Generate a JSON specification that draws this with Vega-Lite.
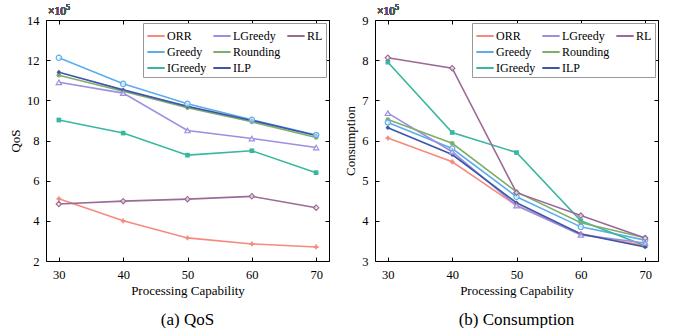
{
  "$schema": "https://vega.github.io/schema/vega-lite/v6.json",
  "padding": {"left": 9, "top": 3, "right": 0, "bottom": 0},
  "background": "white",
  "config": {
    "font": "Liberation Serif",
    "view": {"stroke": "black", "strokeWidth": 1},
    "axis": {"grid": false, "domain": false, "zindex": 1, "ticks": true, "tickColor": "black", "tickSize": 4, "offset": -4, "tickWidth": 1, "labelPadding": 7, "labelFontSize": 12.5, "titleFontSize": 13, "titleFontWeight": "normal", "labelColor": "black", "titleColor": "black", "labelFont": "Liberation Serif", "titleFont": "Liberation Serif", "titlePadding": 4},
    "legend": {"orient": "top-right", "offset": 3, "direction": "vertical", "columns": 3, "symbolType": "stroke", "symbolSize": 300, "symbolStrokeWidth": 2, "labelFontSize": 12, "labelFont": "Liberation Serif", "labelColor": "black", "fillColor": "white", "strokeColor": "#999", "padding": 3, "rowPadding": 0, "columnPadding": 2, "title": null, "labelOffset": 1}
  },
  "datasets": {
    "qos": [
      {"cap": 30, "method": "ORR", "value": 5.1}, {"cap": 40, "method": "ORR", "value": 4.0}, {"cap": 50, "method": "ORR", "value": 3.15}, {"cap": 60, "method": "ORR", "value": 2.85}, {"cap": 70, "method": "ORR", "value": 2.7},
      {"cap": 30, "method": "Greedy", "value": 12.12}, {"cap": 40, "method": "Greedy", "value": 10.82}, {"cap": 50, "method": "Greedy", "value": 9.83}, {"cap": 60, "method": "Greedy", "value": 9.03}, {"cap": 70, "method": "Greedy", "value": 8.27},
      {"cap": 30, "method": "IGreedy", "value": 9.02}, {"cap": 40, "method": "IGreedy", "value": 8.37}, {"cap": 50, "method": "IGreedy", "value": 7.27}, {"cap": 60, "method": "IGreedy", "value": 7.49}, {"cap": 70, "method": "IGreedy", "value": 6.4},
      {"cap": 30, "method": "LGreedy", "value": 10.9}, {"cap": 40, "method": "LGreedy", "value": 10.36}, {"cap": 50, "method": "LGreedy", "value": 8.5}, {"cap": 60, "method": "LGreedy", "value": 8.1}, {"cap": 70, "method": "LGreedy", "value": 7.65},
      {"cap": 30, "method": "Rounding", "value": 11.25}, {"cap": 40, "method": "Rounding", "value": 10.45}, {"cap": 50, "method": "Rounding", "value": 9.63}, {"cap": 60, "method": "Rounding", "value": 8.93}, {"cap": 70, "method": "Rounding", "value": 8.15},
      {"cap": 30, "method": "ILP", "value": 11.4}, {"cap": 40, "method": "ILP", "value": 10.52}, {"cap": 50, "method": "ILP", "value": 9.7}, {"cap": 60, "method": "ILP", "value": 9.0}, {"cap": 70, "method": "ILP", "value": 8.25},
      {"cap": 30, "method": "RL", "value": 4.84}, {"cap": 40, "method": "RL", "value": 4.98}, {"cap": 50, "method": "RL", "value": 5.08}, {"cap": 60, "method": "RL", "value": 5.22}, {"cap": 70, "method": "RL", "value": 4.65}
    ],
    "cons": [
      {"cap": 30, "method": "ORR", "value": 6.06}, {"cap": 40, "method": "ORR", "value": 5.47}, {"cap": 50, "method": "ORR", "value": 4.38}, {"cap": 60, "method": "ORR", "value": 3.68}, {"cap": 70, "method": "ORR", "value": 3.38},
      {"cap": 30, "method": "Greedy", "value": 6.45}, {"cap": 40, "method": "Greedy", "value": 5.8}, {"cap": 50, "method": "Greedy", "value": 4.6}, {"cap": 60, "method": "Greedy", "value": 3.85}, {"cap": 70, "method": "Greedy", "value": 3.52},
      {"cap": 30, "method": "IGreedy", "value": 7.95}, {"cap": 40, "method": "IGreedy", "value": 6.2}, {"cap": 50, "method": "IGreedy", "value": 5.7}, {"cap": 60, "method": "IGreedy", "value": 4.0}, {"cap": 70, "method": "IGreedy", "value": 3.38},
      {"cap": 30, "method": "LGreedy", "value": 6.68}, {"cap": 40, "method": "LGreedy", "value": 5.72}, {"cap": 50, "method": "LGreedy", "value": 4.38}, {"cap": 60, "method": "LGreedy", "value": 3.65}, {"cap": 70, "method": "LGreedy", "value": 3.45},
      {"cap": 30, "method": "Rounding", "value": 6.52}, {"cap": 40, "method": "Rounding", "value": 5.93}, {"cap": 50, "method": "Rounding", "value": 4.72}, {"cap": 60, "method": "Rounding", "value": 3.95}, {"cap": 70, "method": "Rounding", "value": 3.58},
      {"cap": 30, "method": "ILP", "value": 6.32}, {"cap": 40, "method": "ILP", "value": 5.65}, {"cap": 50, "method": "ILP", "value": 4.45}, {"cap": 60, "method": "ILP", "value": 3.67}, {"cap": 70, "method": "ILP", "value": 3.35},
      {"cap": 30, "method": "RL", "value": 8.06}, {"cap": 40, "method": "RL", "value": 7.8}, {"cap": 50, "method": "RL", "value": 4.7}, {"cap": 60, "method": "RL", "value": 4.13}, {"cap": 70, "method": "RL", "value": 3.57}
    ]
  },
  "hconcat": [
    {
      "width": 283, "height": 241,
      "title": {"text": "(a)  QoS", "orient": "bottom", "fontSize": 17, "fontWeight": "normal", "font": "Liberation Serif", "offset": 14, "color": "black"},
      "data": {"name": "qos"},
      "layer": [
        {
          "mark": {"type": "line", "strokeWidth": 1.6},
          "encoding": {
            "x": {"field": "cap", "type": "quantitative", "scale": {"domain": [28, 72], "nice": false}, "axis": {"values": [30, 40, 50, 60, 70], "title": "Processing Capability"}},
            "y": {"field": "value", "type": "quantitative", "scale": {"domain": [2, 14], "nice": false}, "axis": {"values": [2, 4, 6, 8, 10, 12, 14], "title": "QoS"}},
            "color": {"field": "method", "type": "nominal",
              "scale": {"domain": ["ORR", "Greedy", "IGreedy", "LGreedy", "Rounding", "ILP", "RL", " "], "range": ["#f68a7c", "#5aaeec", "#38b7a0", "#9d8fe0", "#80ad6c", "#3d56a6", "#9b6b96", "transparent"]}}
          }
        },
        {
          "transform": [{"filter": {"field": "method", "oneOf": ["ORR", "IGreedy", "Rounding", "ILP"]}}],
          "mark": {"type": "point", "filled": true, "size": 22, "opacity": 1},
          "encoding": {
            "x": {"field": "cap", "type": "quantitative", "axis": null},
            "y": {"field": "value", "type": "quantitative", "axis": null},
            "color": {"field": "method", "type": "nominal",
              "scale": {"domain": ["ORR", "Greedy", "IGreedy", "LGreedy", "Rounding", "ILP", "RL", " "], "range": ["#f68a7c", "#5aaeec", "#38b7a0", "#9d8fe0", "#80ad6c", "#3d56a6", "#9b6b96", "transparent"]}},
            "shape": {"field": "method", "type": "nominal", "legend": null, "scale": {"domain": ["ORR", "IGreedy", "Rounding", "ILP"], "range": ["cross", "square", "circle", "diamond"]}}
          }
        },
        {
          "transform": [{"filter": {"field": "method", "oneOf": ["Greedy", "LGreedy", "RL"]}}],
          "mark": {"type": "point", "filled": false, "fill": "white", "fillOpacity": 0.6, "size": 28, "strokeWidth": 1.2, "opacity": 1},
          "encoding": {
            "x": {"field": "cap", "type": "quantitative", "axis": null},
            "y": {"field": "value", "type": "quantitative", "axis": null},
            "color": {"field": "method", "type": "nominal",
              "scale": {"domain": ["ORR", "Greedy", "IGreedy", "LGreedy", "Rounding", "ILP", "RL", " "], "range": ["#f68a7c", "#5aaeec", "#38b7a0", "#9d8fe0", "#80ad6c", "#3d56a6", "#9b6b96", "transparent"]}},
            "shape": {"field": "method", "type": "nominal", "legend": null, "scale": {"domain": ["Greedy", "LGreedy", "RL"], "range": ["circle", "triangle-up", "diamond"]}}
          }
        },
        {
          "mark": {"type": "text", "text": "×10", "align": "left", "baseline": "bottom", "dx": 2, "dy": -3, "fontSize": 11.5, "font": "Liberation Serif", "color": "#555"},
          "encoding": {
            "x": {"datum": 28, "type": "quantitative", "axis": {"orient": "top", "values": [30, 40, 50, 60, 70], "labels": false, "title": null}},
            "y": {"datum": 14, "type": "quantitative", "axis": {"orient": "right", "values": [2, 4, 6, 8, 10, 12, 14], "labels": false, "title": null}}
          }
        },
        {
          "mark": {"type": "text", "text": "5", "align": "left", "baseline": "bottom", "dx": 20, "dy": -8, "fontSize": 8, "font": "Liberation Serif", "color": "#555"},
          "encoding": {
            "x": {"datum": 28, "type": "quantitative", "axis": null},
            "y": {"datum": 14, "type": "quantitative", "axis": null}
          }
        }
      ],
      "resolve": {"axis": {"x": "independent", "y": "independent"}, "scale": {"shape": "independent"}}
    },
    {
      "width": 283, "height": 241,
      "title": {"text": "(b)  Consumption", "orient": "bottom", "fontSize": 17, "fontWeight": "normal", "font": "Liberation Serif", "offset": 14, "color": "black"},
      "data": {"name": "cons"},
      "layer": [
        {
          "mark": {"type": "line", "strokeWidth": 1.6},
          "encoding": {
            "x": {"field": "cap", "type": "quantitative", "scale": {"domain": [28, 72], "nice": false}, "axis": {"values": [30, 40, 50, 60, 70], "title": "Processing Capability"}},
            "y": {"field": "value", "type": "quantitative", "scale": {"domain": [3, 9], "nice": false}, "axis": {"values": [3, 4, 5, 6, 7, 8, 9], "title": "Consumption"}},
            "color": {"field": "method", "type": "nominal",
              "scale": {"domain": ["ORR", "Greedy", "IGreedy", "LGreedy", "Rounding", "ILP", "RL", " "], "range": ["#f68a7c", "#5aaeec", "#38b7a0", "#9d8fe0", "#80ad6c", "#3d56a6", "#9b6b96", "transparent"]}}
          }
        },
        {
          "transform": [{"filter": {"field": "method", "oneOf": ["ORR", "IGreedy", "Rounding", "ILP"]}}],
          "mark": {"type": "point", "filled": true, "size": 22, "opacity": 1},
          "encoding": {
            "x": {"field": "cap", "type": "quantitative", "axis": null},
            "y": {"field": "value", "type": "quantitative", "axis": null},
            "color": {"field": "method", "type": "nominal",
              "scale": {"domain": ["ORR", "Greedy", "IGreedy", "LGreedy", "Rounding", "ILP", "RL", " "], "range": ["#f68a7c", "#5aaeec", "#38b7a0", "#9d8fe0", "#80ad6c", "#3d56a6", "#9b6b96", "transparent"]}},
            "shape": {"field": "method", "type": "nominal", "legend": null, "scale": {"domain": ["ORR", "IGreedy", "Rounding", "ILP"], "range": ["cross", "square", "circle", "diamond"]}}
          }
        },
        {
          "transform": [{"filter": {"field": "method", "oneOf": ["Greedy", "LGreedy", "RL"]}}],
          "mark": {"type": "point", "filled": false, "fill": "white", "fillOpacity": 0.6, "size": 28, "strokeWidth": 1.2, "opacity": 1},
          "encoding": {
            "x": {"field": "cap", "type": "quantitative", "axis": null},
            "y": {"field": "value", "type": "quantitative", "axis": null},
            "color": {"field": "method", "type": "nominal",
              "scale": {"domain": ["ORR", "Greedy", "IGreedy", "LGreedy", "Rounding", "ILP", "RL", " "], "range": ["#f68a7c", "#5aaeec", "#38b7a0", "#9d8fe0", "#80ad6c", "#3d56a6", "#9b6b96", "transparent"]}},
            "shape": {"field": "method", "type": "nominal", "legend": null, "scale": {"domain": ["Greedy", "LGreedy", "RL"], "range": ["circle", "triangle-up", "diamond"]}}
          }
        },
        {
          "mark": {"type": "text", "text": "×10", "align": "left", "baseline": "bottom", "dx": 2, "dy": -3, "fontSize": 11.5, "font": "Liberation Serif", "color": "#555"},
          "encoding": {
            "x": {"datum": 28, "type": "quantitative", "axis": {"orient": "top", "values": [30, 40, 50, 60, 70], "labels": false, "title": null}},
            "y": {"datum": 9, "type": "quantitative", "axis": {"orient": "right", "values": [3, 4, 5, 6, 7, 8, 9], "labels": false, "title": null}}
          }
        },
        {
          "mark": {"type": "text", "text": "5", "align": "left", "baseline": "bottom", "dx": 20, "dy": -8, "fontSize": 8, "font": "Liberation Serif", "color": "#555"},
          "encoding": {
            "x": {"datum": 28, "type": "quantitative", "axis": null},
            "y": {"datum": 9, "type": "quantitative", "axis": null}
          }
        }
      ],
      "resolve": {"axis": {"x": "independent", "y": "independent"}, "scale": {"shape": "independent"}}
    }
  ],
  "spacing": 14,
  "resolve": {"scale": {"color": "independent", "shape": "independent"}}
}
